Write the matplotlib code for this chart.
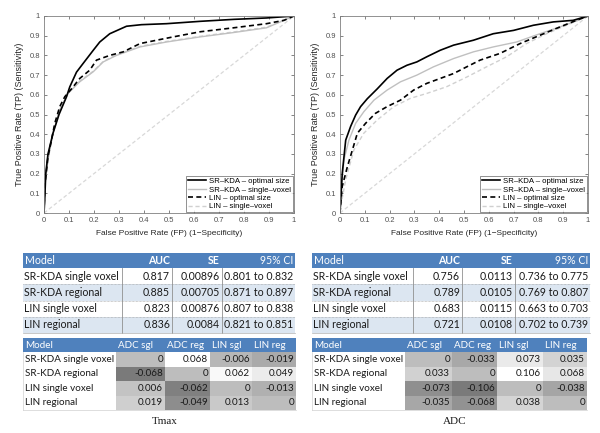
import numpy as np
import matplotlib.pyplot as plt
from matplotlib.patches import Rectangle

plt.rcParams['font.family'] = ['Liberation Sans', 'DejaVu Sans']

# ---- ROC data ----
# Tmax
tmax_srkda_opt_fp = [0, 0.003, 0.007, 0.016, 0.036, 0.06, 0.09, 0.103, 0.13, 0.157, 0.197, 0.223, 0.263, 0.33, 0.39, 0.49, 0.625, 0.76, 0.89, 1]
tmax_srkda_opt_tp = [0, 0.07, 0.2, 0.30, 0.405, 0.50, 0.59, 0.64, 0.715, 0.76, 0.826, 0.868, 0.91, 0.948, 0.956, 0.961, 0.973, 0.983, 0.99, 1]
tmax_srkda_sgl_fp = [0, 0.003, 0.016, 0.036, 0.063, 0.096, 0.143, 0.197, 0.237, 0.29, 0.384, 0.49, 0.625, 0.758, 0.89, 1]
tmax_srkda_sgl_tp = [0, 0.135, 0.27, 0.405, 0.52, 0.607, 0.666, 0.717, 0.767, 0.80, 0.843, 0.868, 0.894, 0.916, 0.94, 1]
tmax_lin_opt_fp = [0, 0.003, 0.016, 0.03, 0.043, 0.063, 0.083, 0.11, 0.143, 0.183, 0.21, 0.263, 0.317, 0.384, 0.45, 0.517, 0.625, 0.758, 0.89, 0.96, 1]
tmax_lin_opt_tp = [0, 0.135, 0.287, 0.37, 0.455, 0.54, 0.59, 0.63, 0.683, 0.725, 0.776, 0.80, 0.818, 0.86, 0.877, 0.894, 0.92, 0.94, 0.961, 0.978, 1]
tmax_lin_sgl_fp = [0, 0.003, 0.016, 0.036, 0.063, 0.096, 0.143, 0.197, 0.237, 0.29, 0.384, 0.49, 0.625, 0.758, 0.89, 1]
tmax_lin_sgl_tp = [0, 0.14, 0.28, 0.41, 0.525, 0.61, 0.67, 0.72, 0.77, 0.803, 0.846, 0.871, 0.897, 0.919, 0.943, 1]

# ADC
adc_srkda_opt_fp = [0, 0.003, 0.009, 0.023, 0.043, 0.063, 0.083, 0.11, 0.15, 0.19, 0.23, 0.27, 0.31, 0.35, 0.404, 0.458, 0.538, 0.618, 0.70, 0.78, 0.86, 0.94, 1]
adc_srkda_opt_tp = [0, 0.067, 0.2, 0.37, 0.44, 0.497, 0.54, 0.58, 0.63, 0.683, 0.725, 0.75, 0.767, 0.793, 0.826, 0.852, 0.877, 0.91, 0.927, 0.953, 0.97, 0.978, 1]
adc_srkda_sgl_fp = [0, 0.003, 0.016, 0.036, 0.063, 0.096, 0.137, 0.19, 0.244, 0.31, 0.377, 0.458, 0.538, 0.618, 0.712, 0.806, 0.886, 0.953, 1]
adc_srkda_sgl_tp = [0, 0.085, 0.27, 0.37, 0.455, 0.514, 0.573, 0.624, 0.666, 0.70, 0.742, 0.784, 0.818, 0.843, 0.868, 0.91, 0.944, 0.975, 1]
adc_lin_opt_fp = [0, 0.003, 0.009, 0.03, 0.05, 0.07, 0.103, 0.143, 0.19, 0.244, 0.297, 0.35, 0.404, 0.458, 0.511, 0.565, 0.645, 0.726, 0.806, 0.886, 0.953, 1]
adc_lin_opt_tp = [0, 0.05, 0.135, 0.236, 0.32, 0.405, 0.455, 0.506, 0.54, 0.573, 0.624, 0.658, 0.683, 0.708, 0.742, 0.776, 0.81, 0.86, 0.902, 0.944, 0.978, 1]
adc_lin_sgl_fp = [0, 0.003, 0.023, 0.056, 0.096, 0.15, 0.217, 0.284, 0.35, 0.43, 0.511, 0.591, 0.672, 0.752, 0.833, 0.913, 1]
adc_lin_sgl_tp = [0, 0.034, 0.17, 0.32, 0.405, 0.472, 0.54, 0.582, 0.607, 0.641, 0.69, 0.742, 0.793, 0.86, 0.91, 0.953, 1]

legend_labels = ['SR\u2013KDA \u2013 optimal size', 'SR\u2013KDA \u2013 single\u2013voxel',
                 'LIN \u2013 optimal size', 'LIN \u2013 single\u2013voxel']

# ---- table data ----
models = ['SR-KDA single voxel', 'SR-KDA regional', 'LIN single voxel', 'LIN regional']
auc_header = ['Model', 'AUC', 'SE', '95% CI']
tmax_auc = ['0.817', '0.885', '0.823', '0.836']
tmax_se = ['0.00896', '0.00705', '0.00876', '0.0084']
tmax_ci = ['0.801 to 0.832', '0.871 to 0.897', '0.807 to 0.838', '0.821 to 0.851']
adc_auc = ['0.756', '0.789', '0.683', '0.721']
adc_se = ['0.0113', '0.0105', '0.0115', '0.0108']
adc_ci = ['0.736 to 0.775', '0.769 to 0.807', '0.663 to 0.703', '0.702 to 0.739']

diff_header = ['Model', 'ADC sgl', 'ADC reg', 'LIN sgl', 'LIN reg']
tmax_diff = [[0, 0.068, -0.006, -0.019],
             [-0.068, 0, 0.062, 0.049],
             [0.006, -0.062, 0, -0.013],
             [0.019, -0.049, 0.013, 0]]
adc_diff = [[0, -0.033, 0.073, 0.035],
            [0.033, 0, 0.106, 0.068],
            [-0.073, -0.106, 0, -0.038],
            [-0.035, -0.068, 0.038, 0]]

W, H = 600, 433
fig = plt.figure(figsize=(6, 4.33), dpi=100)
blue = '#4F81BD'
light_blue = '#DCE6F1'
tfont = 'Lato'


def roc_axes(x0, x1, y0, y1, curves):
    ax = fig.add_axes([x0 / W, 1 - y1 / H, (x1 - x0) / W, (y1 - y0) / H])
    styles = [dict(color='black', lw=1.2, ls='-'),
              dict(color='#c0c0c0', lw=1.0, ls='-'),
              dict(color='black', lw=1.2, ls=(0, (3, 2))),
              dict(color='#d0d0d0', lw=1.0, ls=(0, (3, 2)))]
    ax.plot([0, 1], [0, 1], color='#d8d8d8', lw=0.9, ls=(0, (3, 2)))
    # draw back to front so black lines stay on top
    order = [3, 1, 2, 0]
    handles = [None] * 4
    for i in order:
        fp, tp = curves[i]
        handles[i], = ax.plot(fp, tp, label=legend_labels[i], **styles[i])
    ax.set_xlim(0, 1)
    ax.set_ylim(0, 1)
    ticks = np.arange(0, 1.01, 0.1)
    labels = ['0', '0.1', '0.2', '0.3', '0.4', '0.5', '0.6', '0.7', '0.8', '0.9', '1']
    ax.set_xticks(ticks)
    ax.set_yticks(ticks)
    ax.set_xticklabels(labels)
    ax.set_yticklabels(labels)
    ax.tick_params(direction='in', length=2, width=0.5, labelsize=5.5, colors='#505050',
                   top=True, right=True, pad=3)
    for s in ax.spines.values():
        s.set_color('#808080')
        s.set_linewidth(0.6)
    ax.set_xlabel('False Positive Rate (FP) (1\u2212Specificity)', fontsize=6, color='#262626', labelpad=4)
    ax.set_ylabel('True Positive Rate (TP) (Sensitivity)', fontsize=6.5, color='#262626', labelpad=4)
    leg = ax.legend(handles=handles, loc='lower right', fontsize=5.6, handlelength=2.3,
                    frameon=True, fancybox=False, edgecolor='#404040', borderpad=0.25,
                    labelspacing=0.12, handletextpad=0.4, borderaxespad=0.1)
    leg.get_frame().set_linewidth(0.5)
    return ax


roc_axes(44, 294, 16, 213, [(tmax_srkda_opt_fp, tmax_srkda_opt_tp), (tmax_srkda_sgl_fp, tmax_srkda_sgl_tp),
                            (tmax_lin_opt_fp, tmax_lin_opt_tp), (tmax_lin_sgl_fp, tmax_lin_sgl_tp)])
roc_axes(340, 588, 16, 213, [(adc_srkda_opt_fp, adc_srkda_opt_tp), (adc_srkda_sgl_fp, adc_srkda_sgl_tp),
                             (adc_lin_opt_fp, adc_lin_opt_tp), (adc_lin_sgl_fp, adc_lin_sgl_tp)])

# overlay axes in pixel coordinates for the tables
tx = fig.add_axes([0, 0, 1, 1])
tx.set_xlim(0, W)
tx.set_ylim(H, 0)
tx.axis('off')


def auc_table(cols, y_edges, auc, se, ci):
    fs = 7.6
    tx.add_patch(Rectangle((cols[0], y_edges[0]), cols[-1] - cols[0], y_edges[1] - y_edges[0],
                           facecolor=blue, edgecolor='none'))
    ym = (y_edges[0] + y_edges[1]) / 2
    tx.text(cols[0] + 2, ym, auc_header[0], color='white', fontsize=fs, family=tfont, va='center', ha='left')
    for j in range(1, 4):
        tx.text(cols[j + 1] - 2, ym, auc_header[j], color='white', fontsize=fs, family=tfont,
                va='center', ha='right', fontweight='bold' if j < 3 else 'normal')
    for i in range(4):
        top, bot = y_edges[i + 1], y_edges[i + 2]
        fc = light_blue if i % 2 == 1 else 'white'
        tx.add_patch(Rectangle((cols[0], top), cols[-1] - cols[0], bot - top, facecolor=fc, edgecolor='none'))
        ym = (top + bot) / 2
        vals = [models[i], auc[i], se[i], ci[i]]
        tx.text(cols[0] + 1, ym, vals[0], color='#1a1a1a', fontsize=fs, family=tfont, va='center', ha='left')
        for j in range(1, 4):
            tx.text(cols[j + 1] - 2, ym, vals[j], color='#1a1a1a', fontsize=fs, family=tfont,
                    va='center', ha='right')
        if i < 3:
            tx.plot([cols[0], cols[-1]], [bot, bot], color='#a0a0a0', lw=0.5, ls=(0, (1, 1)))
    for c in cols[1:-1]:
        tx.plot([c, c], [y_edges[1], y_edges[-1]], color='#909090', lw=0.6)
    tx.plot([cols[0], cols[-1]], [y_edges[-1], y_edges[-1]], color='#b0b0b0', lw=0.5)


def diff_table(cols, y_edges, diff):
    fs = 7.1
    flat = [v for row in diff for v in row]
    vmin, vmax = min(flat), max(flat)
    tx.add_patch(Rectangle((cols[0], y_edges[0]), cols[-1] - cols[0], y_edges[1] - y_edges[0],
                           facecolor=blue, edgecolor='none'))
    ym = (y_edges[0] + y_edges[1]) / 2
    for j in range(5):
        tx.text(cols[j] + 2, ym, diff_header[j], color='white', fontsize=fs, family=tfont, va='center', ha='left')
    for i in range(4):
        top, bot = y_edges[i + 1], y_edges[i + 2]
        ym = (top + bot) / 2
        tx.text(cols[0] + 2, ym, models[i], color='#1a1a1a', fontsize=fs, family=tfont, va='center', ha='left')
        for j in range(4):
            v = diff[i][j]
            g = 0.48 + 0.52 * (v - vmin) / (vmax - vmin)
            tx.add_patch(Rectangle((cols[j + 1], top), cols[j + 2] - cols[j + 1], bot - top,
                                   facecolor=(g, g, g), edgecolor='none'))
            tx.text(cols[j + 2] - 2, ym, f'{v:g}', color='#1a1a1a', fontsize=fs, family=tfont,
                    va='center', ha='right')
    tx.plot([cols[0], cols[0]], [y_edges[1], y_edges[-1]], color='#d0d0d0', lw=0.5)
    tx.plot([cols[0], cols[-1]], [y_edges[-1], y_edges[-1]], color='#d0d0d0', lw=0.5)


auc_rows = [253, 268, 284.3, 300.6, 316.9, 333]
diff_rows = [338, 352, 366.5, 381, 395.5, 410]
auc_table([23, 122, 172, 222, 295], auc_rows, tmax_auc, tmax_se, tmax_ci)
auc_table([312, 413, 462, 515, 590], auc_rows, adc_auc, adc_se, adc_ci)
diff_table([23, 116, 165, 210, 252, 296], diff_rows, tmax_diff)
diff_table([312, 405, 452, 497, 543, 587], diff_rows, adc_diff)

tx.text(165, 422, 'Tmax', fontsize=8, family='Liberation Serif', ha='center', va='center', color='#1a1a1a')
tx.text(455, 422, 'ADC', fontsize=8, family='Liberation Serif', ha='center', va='center', color='#1a1a1a')

fig.savefig('out.png', dpi=100)
